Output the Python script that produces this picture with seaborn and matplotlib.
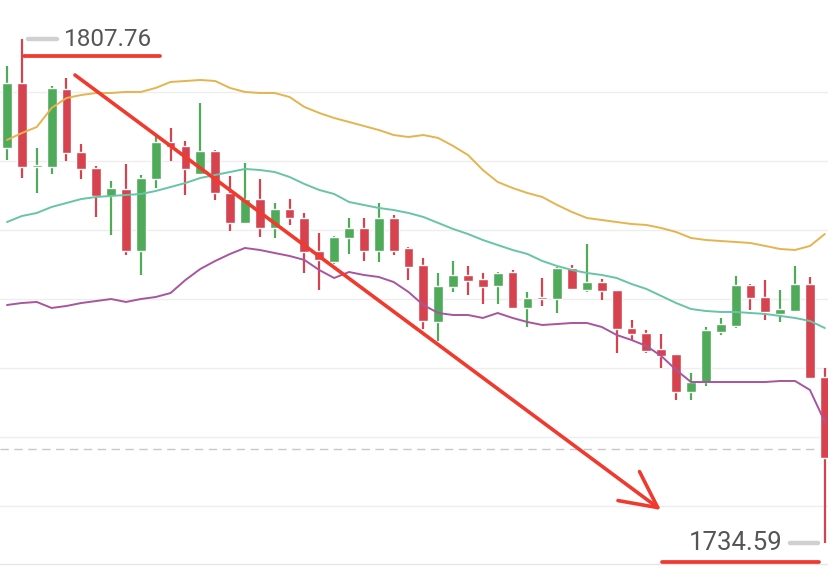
import numpy as np
import pandas as pd
import matplotlib
matplotlib.use("Agg")
import matplotlib.pyplot as plt
import seaborn as sns

# ======= DATA =======
opens = [1791.94, 1801.37, 1789.18, 1789.18, 1800.50, 1791.35, 1789.03, 1784.97, 1785.98, 1776.98,
         1787.43, 1792.81, 1792.23, 1788.16, 1791.50, 1785.40, 1781.05, 1784.53, 1780.32, 1783.08,
         1781.77, 1776.98, 1775.39, 1778.87, 1780.32, 1776.98, 1781.77, 1777.42, 1774.95, 1766.67,
         1771.76, 1773.50, 1772.92, 1771.90, 1773.93, 1768.71, 1770.16, 1770.01, 1774.51, 1771.32,
         1772.48, 1771.32, 1765.80, 1765.08, 1762.75, 1762.03, 1756.51, 1757.96, 1765.22, 1766.09,
         1772.05, 1770.30, 1767.84, 1768.27, 1772.19, 1758.69]
closes = [1801.37, 1789.18, 1789.47, 1800.65, 1791.21, 1788.89, 1784.97, 1786.13, 1776.98, 1787.58,
          1792.81, 1792.08, 1788.89, 1791.50, 1785.40, 1781.05, 1784.53, 1780.32, 1783.08, 1781.77,
          1776.84, 1775.68, 1779.01, 1780.32, 1776.98, 1781.77, 1776.98, 1774.66, 1766.82, 1771.90,
          1773.50, 1772.63, 1771.76, 1773.79, 1768.71, 1770.16, 1770.01, 1774.51, 1771.47, 1772.48,
          1771.18, 1765.66, 1764.93, 1762.46, 1761.74, 1756.51, 1757.96, 1765.51, 1766.38, 1772.05,
          1770.16, 1768.13, 1768.56, 1772.19, 1758.54, 1746.93]
highs = [1803.84, 1807.76, 1791.94, 1800.94, 1802.10, 1792.52, 1789.32, 1787.14, 1789.61, 1788.02,
         1793.68, 1794.84, 1792.95, 1798.47, 1791.65, 1787.87, 1789.76, 1787.43, 1783.95, 1784.53,
         1782.50, 1779.60, 1779.16, 1781.77, 1781.77, 1783.95, 1782.21, 1777.56, 1775.97, 1773.79,
         1775.53, 1774.80, 1773.79, 1773.93, 1774.22, 1771.03, 1773.06, 1774.66, 1774.95, 1778.00,
         1772.92, 1771.32, 1766.96, 1765.51, 1764.93, 1762.03, 1759.27, 1765.95, 1767.25, 1773.35,
         1772.19, 1772.77, 1771.32, 1774.80, 1773.21, 1760.00]
lows = [1790.19, 1787.58, 1785.40, 1788.16, 1790.05, 1787.43, 1781.92, 1779.31, 1776.40, 1773.50,
        1786.13, 1790.05, 1785.11, 1788.02, 1784.39, 1779.89, 1780.90, 1779.01, 1778.87, 1780.76,
        1773.79, 1771.32, 1775.09, 1776.55, 1775.53, 1775.39, 1776.40, 1772.77, 1765.66, 1763.92,
        1771.03, 1770.59, 1769.29, 1769.29, 1768.56, 1765.95, 1768.99, 1767.98, 1771.32, 1771.03,
        1769.87, 1762.17, 1764.06, 1762.17, 1760.00, 1755.35, 1755.35, 1757.38, 1764.79, 1765.80,
        1768.42, 1766.96, 1766.67, 1768.13, 1758.40, 1734.59]

upper_band = [1793.10, 1794.11, 1794.98, 1797.74, 1799.19, 1799.63, 1799.92, 1799.92, 1800.07, 1800.07,
              1800.65, 1801.52, 1801.66, 1801.81, 1801.66, 1800.65, 1800.07, 1799.92, 1799.92, 1799.34,
              1797.89, 1797.02, 1796.29, 1795.71, 1795.13, 1794.55, 1793.82, 1793.53, 1793.82, 1793.39,
              1792.23, 1790.92, 1788.74, 1787.00, 1786.13, 1785.40, 1784.82, 1783.66, 1782.64, 1781.77,
              1781.48, 1781.19, 1780.90, 1780.76, 1780.32, 1779.74, 1778.87, 1778.58, 1778.43, 1778.29,
              1778.14, 1777.71, 1777.27, 1777.13, 1777.71, 1779.45]
mid_band = [1781.19, 1782.06, 1782.50, 1783.37, 1783.95, 1784.53, 1784.82, 1784.97, 1785.11, 1785.26,
            1785.69, 1786.27, 1786.85, 1787.58, 1788.02, 1788.45, 1788.89, 1788.74, 1788.45, 1787.73,
            1786.71, 1785.84, 1785.26, 1784.10, 1783.66, 1783.23, 1782.93, 1782.50, 1781.92, 1781.05,
            1780.18, 1779.45, 1778.58, 1777.85, 1777.13, 1776.55, 1775.53, 1774.80, 1774.22, 1773.79,
            1773.50, 1773.06, 1772.19, 1771.47, 1770.45, 1769.43, 1768.56, 1768.27, 1768.13, 1768.13,
            1767.98, 1767.84, 1767.55, 1767.26, 1766.82, 1765.80]
lower_band = [1769.14, 1769.43, 1769.58, 1768.71, 1769.00, 1769.43, 1769.72, 1770.01, 1769.58, 1770.01,
              1770.30, 1770.88, 1772.77, 1774.37, 1775.53, 1776.55, 1777.42, 1777.13, 1776.69, 1776.26,
              1775.68, 1774.22, 1773.06, 1773.93, 1773.50, 1773.21, 1772.48, 1771.03, 1769.14, 1767.98,
              1767.69, 1767.69, 1767.26, 1767.98, 1767.26, 1766.67, 1766.24, 1766.38, 1766.53, 1766.53,
              1765.95, 1764.79, 1764.06, 1763.19, 1761.74, 1759.71, 1757.96, 1757.96, 1757.96, 1757.96,
              1757.96, 1757.96, 1758.11, 1758.11, 1756.80, 1752.16]

grid_levels = [1740, 1750, 1760, 1770, 1780, 1790, 1800]
current_price = 1748.24
high_label = "1807.76"
low_label = "1734.59"
# =========================================

UP = "#4fab5a"
DOWN = "#d6434f"
RED = "#ef3a2d"

sns.set_style("white")
fig = plt.figure(figsize=(8.29, 5.79), dpi=100)
ax = fig.add_axes([0, 15 / 579, 1, 564 / 579])

idx = np.arange(len(opens))
df = pd.DataFrame({"idx": idx, "open": opens, "close": closes, "high": highs, "low": lows,
                   "upper": upper_band, "mid": mid_band, "lower": lower_band})
colors = np.where(df["close"] >= df["open"], UP, DOWN)

# candles
ax.vlines(df["idx"], df["low"], df["high"], colors=colors, lw=1.6, zorder=2)
body_bottom = np.minimum(df["open"], df["close"])
body_h = np.maximum((df["close"] - df["open"]).abs(), 0.35)
ax.bar(df["idx"], body_h, bottom=body_bottom, width=0.66, color=colors, zorder=3)

# bollinger bands
for col, c in [("upper", "#e5b44f"), ("mid", "#68c4a6"), ("lower", "#a8559f")]:
    sns.lineplot(data=df, x="idx", y=col, color=c, lw=1.4, ax=ax, zorder=4)

# price lines
ax.axhline(current_price, color="#c8c8c8", lw=1, dashes=(6, 4), zorder=1)
ax.axhline(max(highs), xmin=28 / 829, xmax=57 / 829, color="#d0d0d0", lw=3.2, zorder=5)
ax.axhline(min(lows), xmin=790 / 829, xmax=818 / 829, color="#d0d0d0", lw=3.2, zorder=5)

# trend arrow
ax.annotate("", xy=(43.98, 1739.38), xytext=(4.57, 1802.53),
            arrowprops=dict(arrowstyle="->,head_length=2.6,head_width=1.3", color=RED,
                            lw=2.6, shrinkA=0, shrinkB=0, mutation_scale=10), zorder=6)

# labels with red underlines
fig.text(64 / 829, 1 - 40 / 579, high_label, fontsize=17.5, color="#555555",
         family="Roboto", ha="left", va="center")
fig.text(783 / 829, 1 - 543 / 579, low_label, fontsize=18.5, color="#555555",
         family="Roboto", ha="right", va="center")
fig.add_artist(plt.Line2D([24 / 829, 160 / 829], [1 - 56 / 579, 1 - 56 / 579],
                          color=RED, lw=2.7, transform=fig.transFigure))
fig.add_artist(plt.Line2D([662 / 829, 819 / 829], [1 - 562 / 579, 1 - 562 / 579],
                          color=RED, lw=2.7, transform=fig.transFigure))

ax.set_xlim(-0.47, 55.28)
ax.set_ylim(1731.54, 1813.42)
ax.set_yticks(grid_levels)
ax.grid(axis="y", color="#eeeeee", lw=1)
ax.set_axisbelow(True)
ax.tick_params(left=False, bottom=False, labelleft=False, labelbottom=False)
ax.set_xlabel("")
ax.set_ylabel("")
for s in ["top", "left", "right"]:
    ax.spines[s].set_visible(False)
ax.spines["bottom"].set_color("#e6e6e6")
ax.spines["bottom"].set_linewidth(1)

fig.savefig("out.png", dpi=100)
